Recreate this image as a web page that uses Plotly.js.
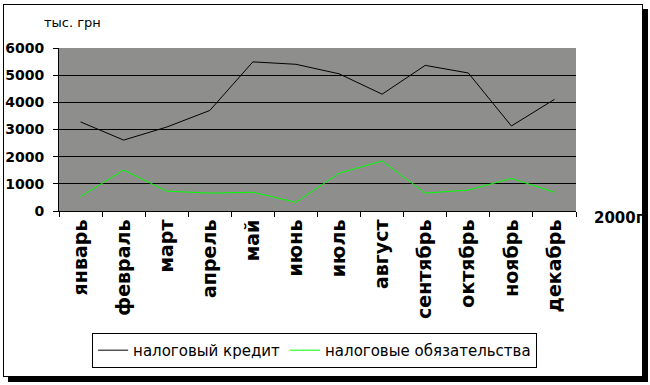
<!DOCTYPE html>
<html><head><meta charset="utf-8">
<script src="https://cdn.plot.ly/plotly-3.0.1.min.js"></script>
<style>
html,body{margin:0;padding:0;background:#fff;}
#wrap{position:relative;width:650px;height:385px;}
#chart{position:absolute;left:0;top:0;width:650px;height:385px;}
#frame{position:absolute;left:3px;top:4px;width:640px;height:373px;box-sizing:border-box;border:1px solid #000;box-shadow:5px 5px 0 #000;pointer-events:none;}
</style></head>
<body>
<div id="wrap"><div id="frame"></div><div id="chart"></div></div>
<script>
const months = ["январь","февраль","март","апрель","май","июнь","июль","август","сентябрь","октябрь","ноябрь","декабрь"];
const taxCredit = [3280, 2610, 3090, 3700, 5490, 5400, 5050, 4300, 5360, 5080, 3130, 4110];
const taxLiabilities = [530, 1510, 730, 660, 690, 320, 1390, 1840, 660, 770, 1200, 690];
const yTicks = [0, 1000, 2000, 3000, 4000, 5000, 6000];
const seriesNames = ["налоговый кредит", "налоговые обязательства"];
const unitLabel = "тыс. грн";
const yearLabel = "2000г";

const traces = [
  {x: months, y: taxCredit, name: seriesNames[0], type: "scatter", mode: "lines",
   line: {color: "#000000", width: 1}},
  {x: months, y: taxLiabilities, name: seriesNames[1], type: "scatter", mode: "lines",
   line: {color: "#00ff00", width: 1}}
];

const layout = {
  width: 650, height: 385,
  margin: {l: 59, r: 74, t: 48, b: 174},
  paper_bgcolor: "rgba(0,0,0,0)",
  plot_bgcolor: "#8e8f8d",
  font: {family: "DejaVu Sans", color: "#000"},
  showlegend: true,
  legend: {orientation: "h", x: 0.064, xanchor: "left", y: -0.748, yanchor: "top",
    bgcolor: "#ffffff", bordercolor: "#000", borderwidth: 1,
    font: {family: "DejaVu Sans", size: 15, color: "#000"},
    itemwidth: 30, tracegroupgap: 0},
  xaxis: {type: "category", tickson: "boundaries", ticks: "outside", ticklen: 5, tickcolor: "#000",
    showline: true, linecolor: "#000", linewidth: 1, showgrid: false, zeroline: false,
    tickangle: -90, tickfont: {family: "DejaVu Sans", size: 19, weight: "bold", color: "#000"},
    range: [-0.5, 11.5], fixedrange: true},
  yaxis: {range: [0, 6000], tickvals: yTicks, ticktext: yTicks.map(String),
    ticks: "outside", ticklen: 5, tickcolor: "#000", ticklabelstandoff: 6,
    showline: true, linecolor: "#000", linewidth: 1,
    showgrid: true, gridcolor: "#000", gridwidth: 1, zeroline: false,
    tickfont: {family: "DejaVu Sans", size: 14, weight: "bold", color: "#000"}, fixedrange: true},
  annotations: [
    {text: unitLabel, xref: "paper", yref: "paper", x: -0.033, y: 1.155, xanchor: "left", yanchor: "middle",
     showarrow: false, font: {family: "DejaVu Sans", size: 13, color: "#000"}},
    {text: yearLabel, xref: "paper", yref: "paper", x: 1.03, y: -0.045, xanchor: "left", yanchor: "middle",
     showarrow: false, font: {family: "DejaVu Sans", size: 15, weight: "bold", color: "#000"}}
  ]
};

Plotly.newPlot("chart", traces, layout, {displayModeBar: false, staticPlot: true});
</script>
</body></html>
